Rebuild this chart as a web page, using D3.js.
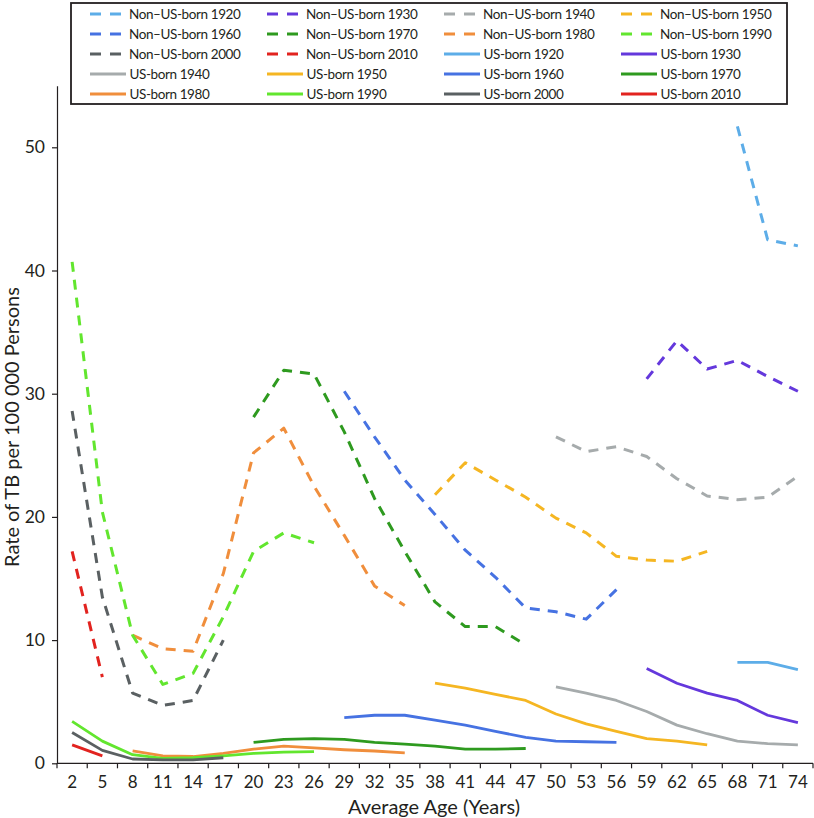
<!DOCTYPE html>
<html>
<head>
<meta charset="utf-8">
<script src="https://cdn.jsdelivr.net/npm/d3@7"></script>
<style>
  html, body { margin: 0; padding: 0; background: #fff; }
  svg { display: block; }
  text { font-family: Lato, "Open Sans", sans-serif; fill: #231f20; }
</style>
</head>
<body>
<svg id="chart" width="814" height="818"></svg>
<script>
// ---------- data ----------
const ages = [2,5,8,11,14,17,20,23,26,29,32,35,38,41,44,47,50,53,56,59,62,65,68,71,74];
const yTicks = [0,10,20,30,40,50];
const cohorts = [1920,1930,1940,1950,1960,1970,1980,1990,2000,2010];
const startAges = [68,59,50,38,29,20,8,2,2,2];
const colors = ["#5dade8","#6438dc","#a6abac","#f5b622","#4672e2","#2e9a1f","#f08e3c","#62e62e","#5a6062","#e2231f"];

// Non-US-born rates (per 100 000) starting at startAges
const nonUS1920 = [51.7, 42.5, 42.0];
const nonUS1930 = [31.2, 34.3, 32.0, 32.7, 31.4, 30.2];
const nonUS1940 = [26.5, 25.3, 25.7, 24.9, 23.1, 21.7, 21.4, 21.6, 23.3];
const nonUS1950 = [21.8, 24.4, 23.0, 21.6, 19.9, 18.7, 16.8, 16.5, 16.4, 17.2];
const nonUS1960 = [30.2, 26.5, 23.0, 20.2, 17.3, 15.1, 12.6, 12.3, 11.7, 14.1];
const nonUS1970 = [28.1, 31.9, 31.6, 26.9, 21.5, 17.2, 13.1, 11.1, 11.1, 9.6];
const nonUS1980 = [10.4, 9.3, 9.1, 15.4, 25.2, 27.2, 22.5, 18.5, 14.4, 12.8];
const nonUS1990 = [40.7, 20.4, 10.4, 6.4, 7.3, 11.9, 17.2, 18.7, 17.9];
const nonUS2000 = [28.6, 13.5, 5.7, 4.7, 5.1, 10.0];
const nonUS2010 = [17.2, 7.0];

// US-born rates
const us1920 = [8.2, 8.2, 7.6];
const us1930 = [7.7, 6.5, 5.7, 5.1, 3.9, 3.3];
const us1940 = [6.2, 5.7, 5.1, 4.2, 3.1, 2.4, 1.8, 1.6, 1.5];
const us1950 = [6.5, 6.1, 5.6, 5.1, 4.0, 3.2, 2.6, 2.0, 1.8, 1.5];
const us1960 = [3.7, 3.9, 3.9, 3.5, 3.1, 2.6, 2.1, 1.8, 1.75, 1.7];
const us1970 = [1.7, 1.95, 2.0, 1.95, 1.7, 1.55, 1.4, 1.15, 1.15, 1.2];
const us1980 = [1.0, 0.6, 0.55, 0.8, 1.15, 1.4, 1.25, 1.1, 1.0, 0.85];
const us1990 = [3.4, 1.8, 0.7, 0.4, 0.45, 0.6, 0.8, 0.9, 0.95];
const us2000 = [2.5, 1.05, 0.35, 0.27, 0.27, 0.45];
const us2010 = [1.5, 0.6];

const nonUSValues = [nonUS1920, nonUS1930, nonUS1940, nonUS1950, nonUS1960, nonUS1970, nonUS1980, nonUS1990, nonUS2000, nonUS2010];
const usValues = [us1920, us1930, us1940, us1950, us1960, us1970, us1980, us1990, us2000, us2010];

// ---------- build series ----------
function buildSeries(vals, i, dashed) {
  const s = ages.indexOf(startAges[i]);
  return {
    name: (dashed ? "Non\u2013US-born " : "US-born ") + cohorts[i],
    color: colors[i],
    dashed: dashed,
    points: vals.map((v, k) => ({age: ages[s + k], v: v}))
  };
}
const series = [];
nonUSValues.forEach((v, i) => series.push(buildSeries(v, i, true)));
usValues.forEach((v, i) => series.push(buildSeries(v, i, false)));

// ---------- layout ----------
const svg = d3.select("#chart");
const plotLeft = 57, plotRight = 813, plotBottom = 763.3, plotTop = 85.7;

const x = d3.scaleBand().domain(ages).range([plotLeft, plotRight]).paddingInner(0).paddingOuter(0);
const y = d3.scaleLinear().domain([0, 55]).range([plotBottom, plotTop]);
const xc = a => x(a) + x.bandwidth() / 2;

// x-axis
const xAxis = svg.append("g").attr("transform", `translate(0,${plotBottom})`)
  .call(d3.axisBottom(x).tickSize(0).tickPadding(12.5));
xAxis.select(".domain").attr("stroke", "#231f20").attr("stroke-width", 1.2).attr("d", `M${plotLeft},0H${plotRight}`);
xAxis.selectAll("text").attr("font-size", 17).style("font-family", "Lato, sans-serif").attr("fill", "#231f20");
// boundary ticks
const boundaries = ages.map(a => x(a)).concat([plotRight]);
xAxis.selectAll("line.bt").data(boundaries).enter().append("line")
  .attr("class", "bt").attr("x1", d => d).attr("x2", d => d).attr("y1", 0).attr("y2", 5)
  .attr("stroke", "#231f20").attr("stroke-width", 1.2);

// y-axis
const yAxis = svg.append("g").attr("transform", `translate(${plotLeft},0)`)
  .call(d3.axisLeft(y).tickValues(yTicks).tickSize(5).tickPadding(7).tickSizeOuter(0));
yAxis.select(".domain").attr("stroke", "#231f20").attr("stroke-width", 1.2);
yAxis.selectAll(".tick line").attr("stroke", "#231f20").attr("stroke-width", 1.2);
yAxis.selectAll("text").attr("font-size", 17.5).style("font-family", "Lato, sans-serif").attr("fill", "#231f20");

// axis titles
svg.append("text").attr("x", 434).attr("y", 813.5).attr("text-anchor", "middle")
  .attr("font-size", 20).text("Average Age (Years)");
svg.append("text").attr("transform", "translate(19,427) rotate(-90)").attr("text-anchor", "middle")
  .attr("font-size", 20).text("Rate of TB per 100 000 Persons");

// lines
const line = d3.line().x(d => xc(d.age)).y(d => y(d.v));
svg.append("g").selectAll("path").data(series).enter().append("path")
  .attr("d", d => line(d.points))
  .attr("fill", "none")
  .attr("stroke", d => d.color)
  .attr("stroke-width", d => d.dashed ? 3 : 2.8)
  .attr("stroke-dasharray", d => d.dashed ? "10,8" : null)
  .attr("stroke-linejoin", "round");

// legend
const legend = svg.append("g");
legend.append("rect").attr("x", 71).attr("y", 3).attr("width", 716).attr("height", 101)
  .attr("fill", "#fff").attr("stroke", "#231f20").attr("stroke-width", 1.8);
const colX = [90, 267, 444, 621];
const items = legend.selectAll("g.item").data(series).enter().append("g")
  .attr("class", "item")
  .attr("transform", (d, i) => `translate(${colX[i % 4]},${14 + 20 * Math.floor(i / 4)})`);
items.append("line").attr("x1", 0).attr("x2", d => d.dashed ? 31 : 36).attr("y1", 0).attr("y2", 0)
  .attr("stroke", d => d.color).attr("stroke-width", 3)
  .attr("stroke-dasharray", d => d.dashed ? "11,9" : null);
items.append("text").attr("x", d => d.dashed ? 39 : 39.5).attr("y", 0).attr("dy", "0.35em")
  .attr("font-size", 13.5).attr("letter-spacing", "-0.4px").text(d => d.name);
</script>
</body>
</html>
